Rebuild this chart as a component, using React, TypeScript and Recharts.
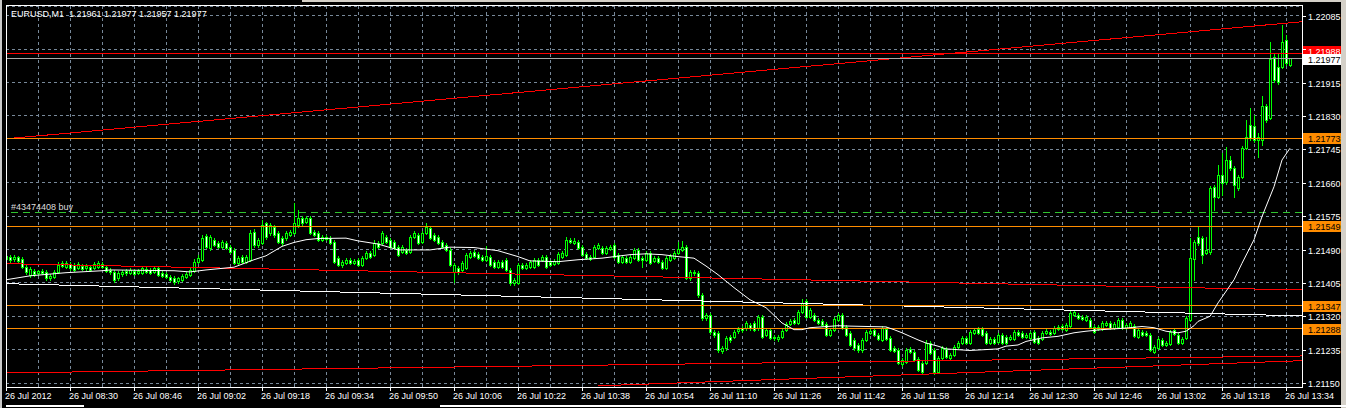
import React from 'react';
import { ComposedChart, XAxis, YAxis, CartesianGrid, Bar, Line, ReferenceLine } from 'recharts';

// ---------- data ----------
const OPEN: number[] = [
1.21466,1.21471,1.21466,1.21471,1.21466,1.21446,1.21426,1.21436,1.21431,1.21436,
1.21433,1.21418,1.21420,1.21433,1.21456,1.21446,1.21454,1.21451,1.21443,1.21448,
1.21443,1.21446,1.21443,1.21446,1.21454,1.21446,1.21438,1.21433,1.21418,1.21428,
1.21436,1.21431,1.21436,1.21431,1.21431,1.21441,1.21438,1.21433,1.21443,1.21431,
1.21428,1.21420,1.21418,1.21410,1.21413,1.21420,1.21426,1.21436,1.21459,1.21464,
1.21525,1.21494,1.21515,1.21507,1.21497,1.21507,1.21497,1.21489,1.21456,1.21471,
1.21459,1.21464,1.21535,1.21502,1.21507,1.21558,1.21532,1.21548,1.21532,1.21520,
1.21520,1.21527,1.21532,1.21553,1.21571,1.21560,1.21571,1.21535,1.21532,1.21515,
1.21522,1.21520,1.21510,1.21469,1.21451,1.21456,1.21464,1.21456,1.21464,1.21451,
1.21469,1.21482,1.21476,1.21507,1.21507,1.21522,1.21515,1.21510,1.21497,1.21484,
1.21489,1.21484,1.21522,1.21527,1.21510,1.21532,1.21545,1.21527,1.21522,1.21510,
1.21502,1.21489,1.21433,1.21443,1.21438,1.21443,1.21471,1.21484,1.21479,1.21471,
1.21464,1.21471,1.21459,1.21446,1.21459,1.21464,1.21438,1.21405,1.21405,1.21451,
1.21443,1.21446,1.21446,1.21464,1.21464,1.21471,1.21459,1.21454,1.21456,1.21471,
1.21476,1.21515,1.21507,1.21510,1.21497,1.21479,1.21471,1.21471,1.21494,1.21494,
1.21482,1.21492,1.21502,1.21476,1.21459,1.21469,1.21459,1.21469,1.21489,1.21469,
1.21464,1.21482,1.21461,1.21469,1.21459,1.21443,1.21464,1.21469,1.21482,1.21489,
1.21497,1.21418,1.21433,1.21431,1.21375,1.21316,1.21324,1.21280,1.21278,1.21232,
1.21240,1.21268,1.21268,1.21283,1.21291,1.21291,1.21298,1.21303,1.21291,1.21319,
1.21273,1.21286,1.21268,1.21263,1.21268,1.21286,1.21301,1.21311,1.21303,1.21331,
1.21359,1.21319,1.21324,1.21311,1.21308,1.21301,1.21273,1.21286,1.21311,1.21324,
1.21293,1.21278,1.21260,1.21247,1.21235,1.21260,1.21278,1.21286,1.21273,1.21260,
1.21288,1.21265,1.21240,1.21235,1.21199,1.21204,1.21237,1.21230,1.21212,1.21202,
1.21202,1.21252,1.21235,1.21179,1.21214,1.21237,1.21214,1.21222,1.21242,1.21252,
1.21265,1.21252,1.21278,1.21288,1.21288,1.21278,1.21252,1.21263,1.21255,1.21273,
1.21268,1.21263,1.21263,1.21280,1.21278,1.21268,1.21265,1.21280,1.21265,1.21263,
1.21278,1.21280,1.21278,1.21288,1.21296,1.21286,1.21296,1.21324,1.21324,1.21319,
1.21311,1.21311,1.21293,1.21288,1.21288,1.21298,1.21303,1.21291,1.21293,1.21311,
1.21291,1.21293,1.21296,1.21268,1.21280,1.21278,1.21273,1.21230,1.21240,1.21260,
1.21247,1.21250,1.21286,1.21273,1.21252,1.21265,1.21311,1.21466,1.21522,1.21520,
1.21482,1.21484,1.21650,1.21624,1.21680,1.21662,1.21718,1.21698,1.21647,1.21675,
1.21749,1.21807,1.21805,1.21769,1.21769,1.21856,1.21825,1.21981,1.21955,1.21955,
1.22024,1.21961,
];

const HIGH: number[] = [
1.21482,1.21476,1.21476,1.21474,1.21471,1.21451,1.21446,1.21441,1.21438,1.21441,
1.21438,1.21428,1.21438,1.21459,1.21461,1.21461,1.21459,1.21456,1.21459,1.21454,
1.21454,1.21451,1.21459,1.21461,1.21459,1.21451,1.21443,1.21438,1.21436,1.21438,
1.21441,1.21443,1.21441,1.21441,1.21448,1.21446,1.21443,1.21448,1.21448,1.21436,
1.21433,1.21426,1.21423,1.21420,1.21428,1.21433,1.21443,1.21466,1.21476,1.21527,
1.21530,1.21527,1.21520,1.21512,1.21515,1.21512,1.21502,1.21494,1.21474,1.21476,
1.21476,1.21540,1.21543,1.21520,1.21566,1.21560,1.21558,1.21553,1.21538,1.21525,
1.21538,1.21540,1.21609,1.21591,1.21576,1.21576,1.21576,1.21540,1.21538,1.21527,
1.21527,1.21525,1.21515,1.21474,1.21464,1.21469,1.21469,1.21466,1.21469,1.21474,
1.21487,1.21487,1.21515,1.21512,1.21538,1.21527,1.21520,1.21515,1.21502,1.21502,
1.21494,1.21527,1.21538,1.21532,1.21538,1.21558,1.21550,1.21532,1.21527,1.21515,
1.21507,1.21494,1.21456,1.21448,1.21461,1.21482,1.21487,1.21489,1.21484,1.21476,
1.21499,1.21476,1.21464,1.21464,1.21464,1.21469,1.21443,1.21418,1.21456,1.21456,
1.21456,1.21464,1.21469,1.21469,1.21476,1.21476,1.21464,1.21466,1.21484,1.21487,
1.21522,1.21520,1.21520,1.21515,1.21502,1.21484,1.21476,1.21502,1.21507,1.21499,
1.21499,1.21502,1.21507,1.21482,1.21476,1.21474,1.21476,1.21494,1.21494,1.21474,
1.21487,1.21487,1.21474,1.21474,1.21464,1.21474,1.21479,1.21487,1.21510,1.21512,
1.21502,1.21438,1.21438,1.21436,1.21380,1.21329,1.21329,1.21286,1.21283,1.21245,
1.21270,1.21273,1.21286,1.21293,1.21296,1.21308,1.21303,1.21308,1.21324,1.21324,
1.21291,1.21291,1.21273,1.21273,1.21288,1.21306,1.21314,1.21316,1.21336,1.21364,
1.21364,1.21342,1.21329,1.21316,1.21314,1.21306,1.21291,1.21319,1.21329,1.21329,
1.21298,1.21283,1.21265,1.21252,1.21265,1.21286,1.21288,1.21291,1.21278,1.21296,
1.21293,1.21270,1.21245,1.21240,1.21214,1.21240,1.21242,1.21235,1.21217,1.21207,
1.21260,1.21258,1.21240,1.21219,1.21245,1.21242,1.21227,1.21247,1.21258,1.21270,
1.21270,1.21286,1.21291,1.21293,1.21293,1.21283,1.21268,1.21268,1.21278,1.21278,
1.21273,1.21273,1.21286,1.21286,1.21283,1.21278,1.21283,1.21286,1.21270,1.21283,
1.21288,1.21286,1.21296,1.21298,1.21301,1.21303,1.21334,1.21336,1.21329,1.21324,
1.21324,1.21316,1.21298,1.21298,1.21308,1.21308,1.21308,1.21306,1.21316,1.21316,
1.21303,1.21308,1.21301,1.21291,1.21286,1.21283,1.21278,1.21247,1.21268,1.21265,
1.21258,1.21286,1.21291,1.21278,1.21268,1.21321,1.21520,1.21515,1.21548,1.21525,
1.21522,1.21652,1.21655,1.21706,1.21736,1.21751,1.21729,1.21703,1.21680,1.21754,
1.21820,1.21851,1.21833,1.21787,1.21881,1.21861,1.22019,1.21991,1.21991,1.22062,
1.22037,1.21977,
];

const LOW: number[] = [
1.21459,1.21459,1.21461,1.21456,1.21443,1.21428,1.21420,1.21423,1.21426,1.21428,
1.21413,1.21413,1.21418,1.21431,1.21446,1.21443,1.21438,1.21436,1.21441,1.21438,
1.21438,1.21436,1.21441,1.21443,1.21443,1.21433,1.21428,1.21408,1.21413,1.21423,
1.21426,1.21428,1.21426,1.21428,1.21428,1.21431,1.21428,1.21431,1.21423,1.21420,
1.21418,1.21410,1.21403,1.21405,1.21410,1.21418,1.21423,1.21433,1.21456,1.21461,
1.21494,1.21489,1.21499,1.21494,1.21494,1.21492,1.21482,1.21454,1.21454,1.21456,
1.21456,1.21461,1.21497,1.21497,1.21504,1.21517,1.21527,1.21522,1.21507,1.21502,
1.21515,1.21525,1.21530,1.21548,1.21553,1.21558,1.21530,1.21525,1.21512,1.21512,
1.21515,1.21504,1.21456,1.21448,1.21446,1.21454,1.21454,1.21454,1.21448,1.21448,
1.21466,1.21469,1.21474,1.21494,1.21504,1.21507,1.21494,1.21492,1.21474,1.21482,
1.21479,1.21482,1.21520,1.21504,1.21507,1.21530,1.21517,1.21512,1.21504,1.21494,
1.21487,1.21448,1.21408,1.21428,1.21436,1.21441,1.21469,1.21471,1.21466,1.21461,
1.21461,1.21448,1.21443,1.21443,1.21443,1.21436,1.21400,1.21400,1.21403,1.21441,
1.21441,1.21443,1.21443,1.21448,1.21461,1.21443,1.21448,1.21451,1.21454,1.21469,
1.21474,1.21507,1.21504,1.21492,1.21474,1.21466,1.21464,1.21469,1.21492,1.21479,
1.21479,1.21489,1.21469,1.21456,1.21456,1.21456,1.21456,1.21466,1.21461,1.21446,
1.21461,1.21454,1.21459,1.21456,1.21441,1.21441,1.21461,1.21466,1.21479,1.21487,
1.21415,1.21413,1.21426,1.21370,1.21311,1.21311,1.21275,1.21268,1.21230,1.21227,
1.21235,1.21255,1.21265,1.21278,1.21280,1.21286,1.21286,1.21283,1.21286,1.21265,
1.21270,1.21263,1.21260,1.21258,1.21265,1.21283,1.21298,1.21301,1.21301,1.21329,
1.21316,1.21316,1.21308,1.21301,1.21296,1.21270,1.21270,1.21283,1.21308,1.21288,
1.21270,1.21245,1.21235,1.21230,1.21230,1.21258,1.21275,1.21270,1.21260,1.21258,
1.21260,1.21232,1.21230,1.21199,1.21194,1.21202,1.21227,1.21207,1.21181,1.21174,
1.21199,1.21224,1.21174,1.21176,1.21212,1.21214,1.21212,1.21219,1.21240,1.21250,
1.21250,1.21250,1.21275,1.21275,1.21270,1.21250,1.21250,1.21250,1.21252,1.21250,
1.21250,1.21260,1.21260,1.21270,1.21265,1.21265,1.21263,1.21252,1.21250,1.21260,
1.21275,1.21273,1.21275,1.21286,1.21286,1.21283,1.21293,1.21321,1.21314,1.21311,
1.21308,1.21291,1.21278,1.21286,1.21286,1.21296,1.21288,1.21288,1.21291,1.21288,
1.21288,1.21291,1.21268,1.21265,1.21270,1.21270,1.21232,1.21227,1.21237,1.21245,
1.21245,1.21247,1.21273,1.21250,1.21250,1.21263,1.21308,1.21413,1.21502,1.21456,
1.21479,1.21479,1.21591,1.21622,1.21629,1.21657,1.21693,1.21624,1.21642,1.21673,
1.21746,1.21769,1.21764,1.21726,1.21757,1.21815,1.21823,1.21917,1.21912,1.21953,
1.21960,1.21957,
];

const CLOSE: number[] = [
1.21474,1.21464,1.21471,1.21461,1.21446,1.21433,1.21441,1.21428,1.21436,1.21431,
1.21418,1.21423,1.21433,1.21451,1.21448,1.21456,1.21443,1.21438,1.21454,1.21441,
1.21448,1.21438,1.21454,1.21456,1.21446,1.21436,1.21433,1.21413,1.21431,1.21433,
1.21431,1.21438,1.21428,1.21436,1.21443,1.21433,1.21431,1.21443,1.21426,1.21423,
1.21420,1.21413,1.21408,1.21418,1.21423,1.21428,1.21438,1.21459,1.21469,1.21520,
1.21497,1.21522,1.21502,1.21497,1.21510,1.21494,1.21484,1.21456,1.21469,1.21459,
1.21471,1.21532,1.21502,1.21515,1.21553,1.21522,1.21553,1.21527,1.21510,1.21507,
1.21532,1.21535,1.21558,1.21571,1.21558,1.21571,1.21532,1.21527,1.21515,1.21522,
1.21517,1.21507,1.21459,1.21451,1.21459,1.21464,1.21456,1.21461,1.21451,1.21469,
1.21482,1.21471,1.21507,1.21497,1.21532,1.21510,1.21497,1.21494,1.21476,1.21497,
1.21482,1.21522,1.21532,1.21507,1.21532,1.21548,1.21520,1.21515,1.21507,1.21497,
1.21489,1.21451,1.21451,1.21433,1.21456,1.21476,1.21482,1.21474,1.21469,1.21464,
1.21474,1.21451,1.21446,1.21459,1.21446,1.21438,1.21405,1.21413,1.21451,1.21443,
1.21451,1.21459,1.21464,1.21451,1.21471,1.21446,1.21451,1.21461,1.21479,1.21482,
1.21515,1.21510,1.21512,1.21494,1.21476,1.21469,1.21466,1.21497,1.21502,1.21482,
1.21494,1.21497,1.21471,1.21459,1.21471,1.21459,1.21471,1.21489,1.21464,1.21464,
1.21482,1.21456,1.21469,1.21459,1.21443,1.21469,1.21474,1.21482,1.21492,1.21497,
1.21418,1.21433,1.21431,1.21375,1.21316,1.21324,1.21280,1.21273,1.21235,1.21240,
1.21265,1.21260,1.21280,1.21288,1.21286,1.21303,1.21291,1.21286,1.21319,1.21268,
1.21286,1.21265,1.21265,1.21268,1.21283,1.21301,1.21308,1.21303,1.21331,1.21354,
1.21319,1.21336,1.21311,1.21303,1.21298,1.21273,1.21286,1.21314,1.21324,1.21291,
1.21273,1.21247,1.21240,1.21235,1.21260,1.21280,1.21283,1.21273,1.21263,1.21291,
1.21263,1.21235,1.21232,1.21202,1.21209,1.21235,1.21230,1.21209,1.21184,1.21179,
1.21252,1.21227,1.21179,1.21214,1.21240,1.21217,1.21222,1.21242,1.21252,1.21265,
1.21252,1.21280,1.21286,1.21278,1.21273,1.21252,1.21263,1.21252,1.21273,1.21252,
1.21252,1.21268,1.21280,1.21273,1.21268,1.21273,1.21278,1.21255,1.21252,1.21278,
1.21283,1.21275,1.21291,1.21293,1.21288,1.21298,1.21329,1.21331,1.21316,1.21314,
1.21319,1.21293,1.21280,1.21293,1.21303,1.21303,1.21291,1.21301,1.21311,1.21291,
1.21298,1.21303,1.21270,1.21286,1.21273,1.21273,1.21235,1.21242,1.21263,1.21247,
1.21252,1.21280,1.21275,1.21252,1.21263,1.21316,1.21469,1.21510,1.21507,1.21476,
1.21489,1.21647,1.21624,1.21680,1.21660,1.21718,1.21698,1.21655,1.21675,1.21749,
1.21777,1.21774,1.21769,1.21777,1.21856,1.21820,1.21975,1.21922,1.21917,1.22019,
1.21965,1.21977,
];

// moving average (read at selected bars)
const MA_INDEX: number[] = [0,6,15,24,26,42,46,50,57,62,65,69,72,75,78,85,88,93,98,106,111,117,123,128,131,138,143,149,156,160,164,168,172,175,178,182,186,190,194,197,199,201,208,211,220,222,224,228,230,233,235,238,241,248,250,253,255,259,263,267,270,274,280,284,287,290,293,295,297,298,301,303,307,309,312,314,317,319,321];
const MA_VALUE: number[] = [1.21413,1.21423,1.21431,1.21436,1.21438,1.21436,1.21433,1.21438,1.21445,1.21464,1.21474,1.21498,1.21508,1.21515,1.21518,1.21519,1.21512,1.21504,1.21489,1.21489,1.21496,1.21495,1.21487,1.21472,1.21461,1.21459,1.21464,1.21468,1.21477,1.21479,1.21477,1.21472,1.21468,1.21448,1.21426,1.21393,1.21362,1.21342,1.21303,1.21286,1.21286,1.21291,1.21296,1.21295,1.21293,1.21286,1.21278,1.21260,1.21252,1.21244,1.21237,1.21235,1.21233,1.21237,1.21244,1.21247,1.21256,1.21265,1.21269,1.21278,1.21282,1.21286,1.21290,1.21294,1.21291,1.21282,1.21278,1.21282,1.21296,1.21307,1.21320,1.21354,1.21413,1.21455,1.21515,1.21574,1.21650,1.21718,1.21748];

const TIME_LABELS: string[] = ['26 Jul 2012','26 Jul 08:30','26 Jul 08:46','26 Jul 09:02','26 Jul 09:18','26 Jul 09:34','26 Jul 09:50','26 Jul 10:06','26 Jul 10:22','26 Jul 10:38','26 Jul 10:54','26 Jul 11:10','26 Jul 11:26','26 Jul 11:42','26 Jul 11:58','26 Jul 12:14','26 Jul 12:30','26 Jul 12:46','26 Jul 13:02','26 Jul 13:18','26 Jul 13:34'];
const LABEL_EVERY = 16;
const GRID_EVERY = 8;
const X_SLOTS = 324;

const PRICE_TICKS: number[] = [1.2115,1.21235,1.2132,1.21405,1.2149,1.21575,1.2166,1.21745,1.2183,1.21915,1.22,1.22085];
// axis prices whose text sits under a line's price box
const HIDDEN_TICK_TEXT: number[] = [1.22];
const Y_DOMAIN: [number, number] = [1.2114, 1.2211];

const ORANGE_LEVELS: number[] = [1.21773, 1.21549, 1.21347, 1.21288];
const RED_LEVEL = 1.21988;
const BID_LEVEL = 1.21977;
const ORDER_LEVEL = 1.21583;
const ORDER_LABEL = '#43474408 buy';
const TITLE = 'EURUSD,M1  1.21961 1.21977 1.21957 1.21977';

const TREND_FROM_X: number[] = [0, 0, 0, 0, 148];
const TREND_FROM_Y: number[] = [1.21772, 1.21454, 1.21403, 1.21176, 1.21143];
const TREND_TO_X: number[] = [324, 324, 324, 324, 324];
const TREND_TO_Y: number[] = [1.22070, 1.21387, 1.21321, 1.21219, 1.21207];
const TREND_COLOR: string[] = ['#ff0000', '#ff0000', '#ffffff', '#ff0000', '#ff0000'];

// ---------- table ----------
const maMap = new Map<number, number>();
MA_INDEX.forEach((ix, k) => maMap.set(ix, MA_VALUE[k]));
const DATA = OPEN.map((o, i) => ({
  i,
  o,
  h: HIGH[i],
  l: LOW[i],
  c: CLOSE[i],
  ma: maMap.has(i) ? (maMap.get(i) as number) : null,
}));
const GRID_TICKS: number[] = [];
for (let t = 0; t <= 320; t += GRID_EVERY) GRID_TICKS.push(t);

const FONT = '"Liberation Sans", Arial, sans-serif';
const FS = 9;
const LIME = '#00ff00';

function Candle(props: any) {
  const { x, y, width, height, payload } = props;
  if (!payload || x == null || y == null) return null;
  let top = y;
  let hgt = height;
  if (hgt < 0) { top = y + hgt; hgt = -hgt; }
  const hi = payload.h, lo = payload.l, o = payload.o, c = payload.c;
  const span = hi - lo;
  const py = (v: number) => (span > 0 ? top + ((hi - v) / span) * hgt : top);
  const cx = Math.round(x + width / 2);
  const yH = Math.round(py(hi));
  const yL = Math.round(py(lo));
  const yO = Math.round(py(o));
  const yC = Math.round(py(c));
  const bt = Math.min(yO, yC);
  const bb = Math.max(yO, yC);
  const bull = c >= o;
  return (
    <g shapeRendering="crispEdges">
      <rect x={cx} y={yH} width={1} height={Math.max(1, yL - yH + 1)} fill={LIME} />
      <rect x={cx - 1} y={bt} width={3} height={bb - bt + 1} fill={LIME} />
      {bb - bt >= 2 && (
        <rect x={cx} y={bt + 1} width={1} height={bb - bt - 1} fill={bull ? '#000000' : '#ffffff'} />
      )}
    </g>
  );
}

function TimeTick(props: any) {
  const { x, payload } = props;
  const v = payload.value as number;
  if (v % LABEL_EVERY !== 0) return null;
  const label = TIME_LABELS[v / LABEL_EVERY];
  return (
    <g>
      <rect x={Math.round(x)} y={388} width={1} height={3} fill="#ffffff" />
      <text x={x - 1} y={399} fill="#ffffff" fontSize={FS} fontFamily={FONT} textAnchor="start">{label}</text>
    </g>
  );
}

function PriceTick(props: any) {
  const { y, payload } = props;
  const v = payload.value as number;
  const yy = Math.round(y);
  const hidden = HIDDEN_TICK_TEXT.some((h) => Math.abs(h - v) < 1e-7);
  return (
    <g>
      <rect x={1303} y={yy} width={3} height={1} fill="#ffffff" />
      {!hidden && (
        <text x={1308} y={yy + 3.5} fill="#ffffff" fontSize={FS} fontFamily={FONT} textAnchor="start">{v.toFixed(5)}</text>
      )}
    </g>
  );
}

function PriceBox(props: any) {
  const { viewBox, price, fill, color, lift } = props;
  if (!viewBox) return null;
  const y = Math.round(viewBox.y) - (lift || 0);
  const right = viewBox.x + viewBox.width;
  return (
    <g>
      <rect x={right + 1} y={y - 5} width={38} height={11} fill={fill} />
      <text x={right + 6} y={y + 3.5} fill={color} fontSize={FS} fontFamily={FONT} textAnchor="start">{price.toFixed(5)}</text>
    </g>
  );
}

function OrderText(props: any) {
  const { viewBox } = props;
  if (!viewBox) return null;
  return (
    <text x={viewBox.x + 5} y={viewBox.y - 3} fill="#dddddd" fontSize={FS} fontFamily={FONT} textAnchor="start">{ORDER_LABEL}</text>
  );
}

export default function App() {
  return (
    <div style={{ position: 'absolute', left: 0, top: 0, width: 1346, height: 408, background: '#000000', overflow: 'hidden' }}>
      <ComposedChart width={1346} height={408} data={DATA} margin={{ top: 6, right: 0, bottom: 0, left: 6 }}>
        <CartesianGrid stroke="#778899" strokeDasharray="3 3" shapeRendering="crispEdges" />
        <XAxis
          type="number"
          dataKey="i"
          domain={[0, X_SLOTS]}
          ticks={GRID_TICKS}
          interval={0}
          height={21}
          axisLine={false}
          tickLine={false}
          allowDataOverflow
          tick={(p: any) => <TimeTick {...p} />}
        />
        <YAxis
          orientation="right"
          type="number"
          domain={Y_DOMAIN}
          ticks={PRICE_TICKS}
          interval={0}
          width={44}
          axisLine={false}
          tickLine={false}
          allowDataOverflow
          tick={(p: any) => <PriceTick {...p} />}
        />
        {TREND_COLOR.map((col, k) => (
          <ReferenceLine
            key={'t' + k}
            segment={[{ x: TREND_FROM_X[k], y: TREND_FROM_Y[k] }, { x: TREND_TO_X[k], y: TREND_TO_Y[k] }]}
            stroke={col}
            strokeWidth={1}
            ifOverflow="visible"
            shapeRendering="crispEdges"
          />
        ))}
        <ReferenceLine y={ORDER_LEVEL} stroke="#2fc42f" strokeDasharray="7 5" shapeRendering="crispEdges" label={(p: any) => <OrderText {...p} />} />
        {ORANGE_LEVELS.map((v) => (
          <ReferenceLine key={'o' + v} y={v} stroke="#ff8c00" shapeRendering="crispEdges" label={(p: any) => <PriceBox {...p} price={v} fill="#ff8c00" color="#000000" />} />
        ))}
        <ReferenceLine y={RED_LEVEL} stroke="#ff0000" shapeRendering="crispEdges" label={(p: any) => <PriceBox {...p} price={RED_LEVEL} fill="#ff0000" color="#ffffff" lift={3} />} />
        <ReferenceLine y={BID_LEVEL} stroke="#a8a8a8" shapeRendering="crispEdges" label={(p: any) => <PriceBox {...p} price={BID_LEVEL} fill="#ffffff" color="#000000" lift={-1} />} />
        <Bar dataKey={(d: any) => [d.l, d.h]} barSize={3} isAnimationActive={false} shape={(p: any) => <Candle {...p} />} />
        <Line dataKey="ma" type="linear" stroke="#ffffff" strokeWidth={1} dot={false} connectNulls isAnimationActive={false} />
      </ComposedChart>
      <svg width={1346} height={408} style={{ position: 'absolute', left: 0, top: 0, pointerEvents: 'none' }}>
        <rect x={6.5} y={5.5} width={1296} height={382} fill="none" stroke="#ffffff" strokeWidth={1} shapeRendering="crispEdges" />
        <text x={11} y={17} fill="#ffffff" fontSize={FS} fontFamily={FONT} style={{ whiteSpace: 'pre' }}>{TITLE}</text>
        <rect x={0} y={0} width={2} height={408} fill="#c8c8c8" />
        <rect x={1341} y={0} width={5} height={408} fill="#d4d0c8" />
        <rect x={302} y={0} width={1044} height={2} fill="#d4d0c8" />
        <rect x={6} y={405} width={78} height={2} fill="#ffffff" />
        <rect x={440} y={405} width={906} height={2} fill="#ffffff" />
      </svg>
    </div>
  );
}
